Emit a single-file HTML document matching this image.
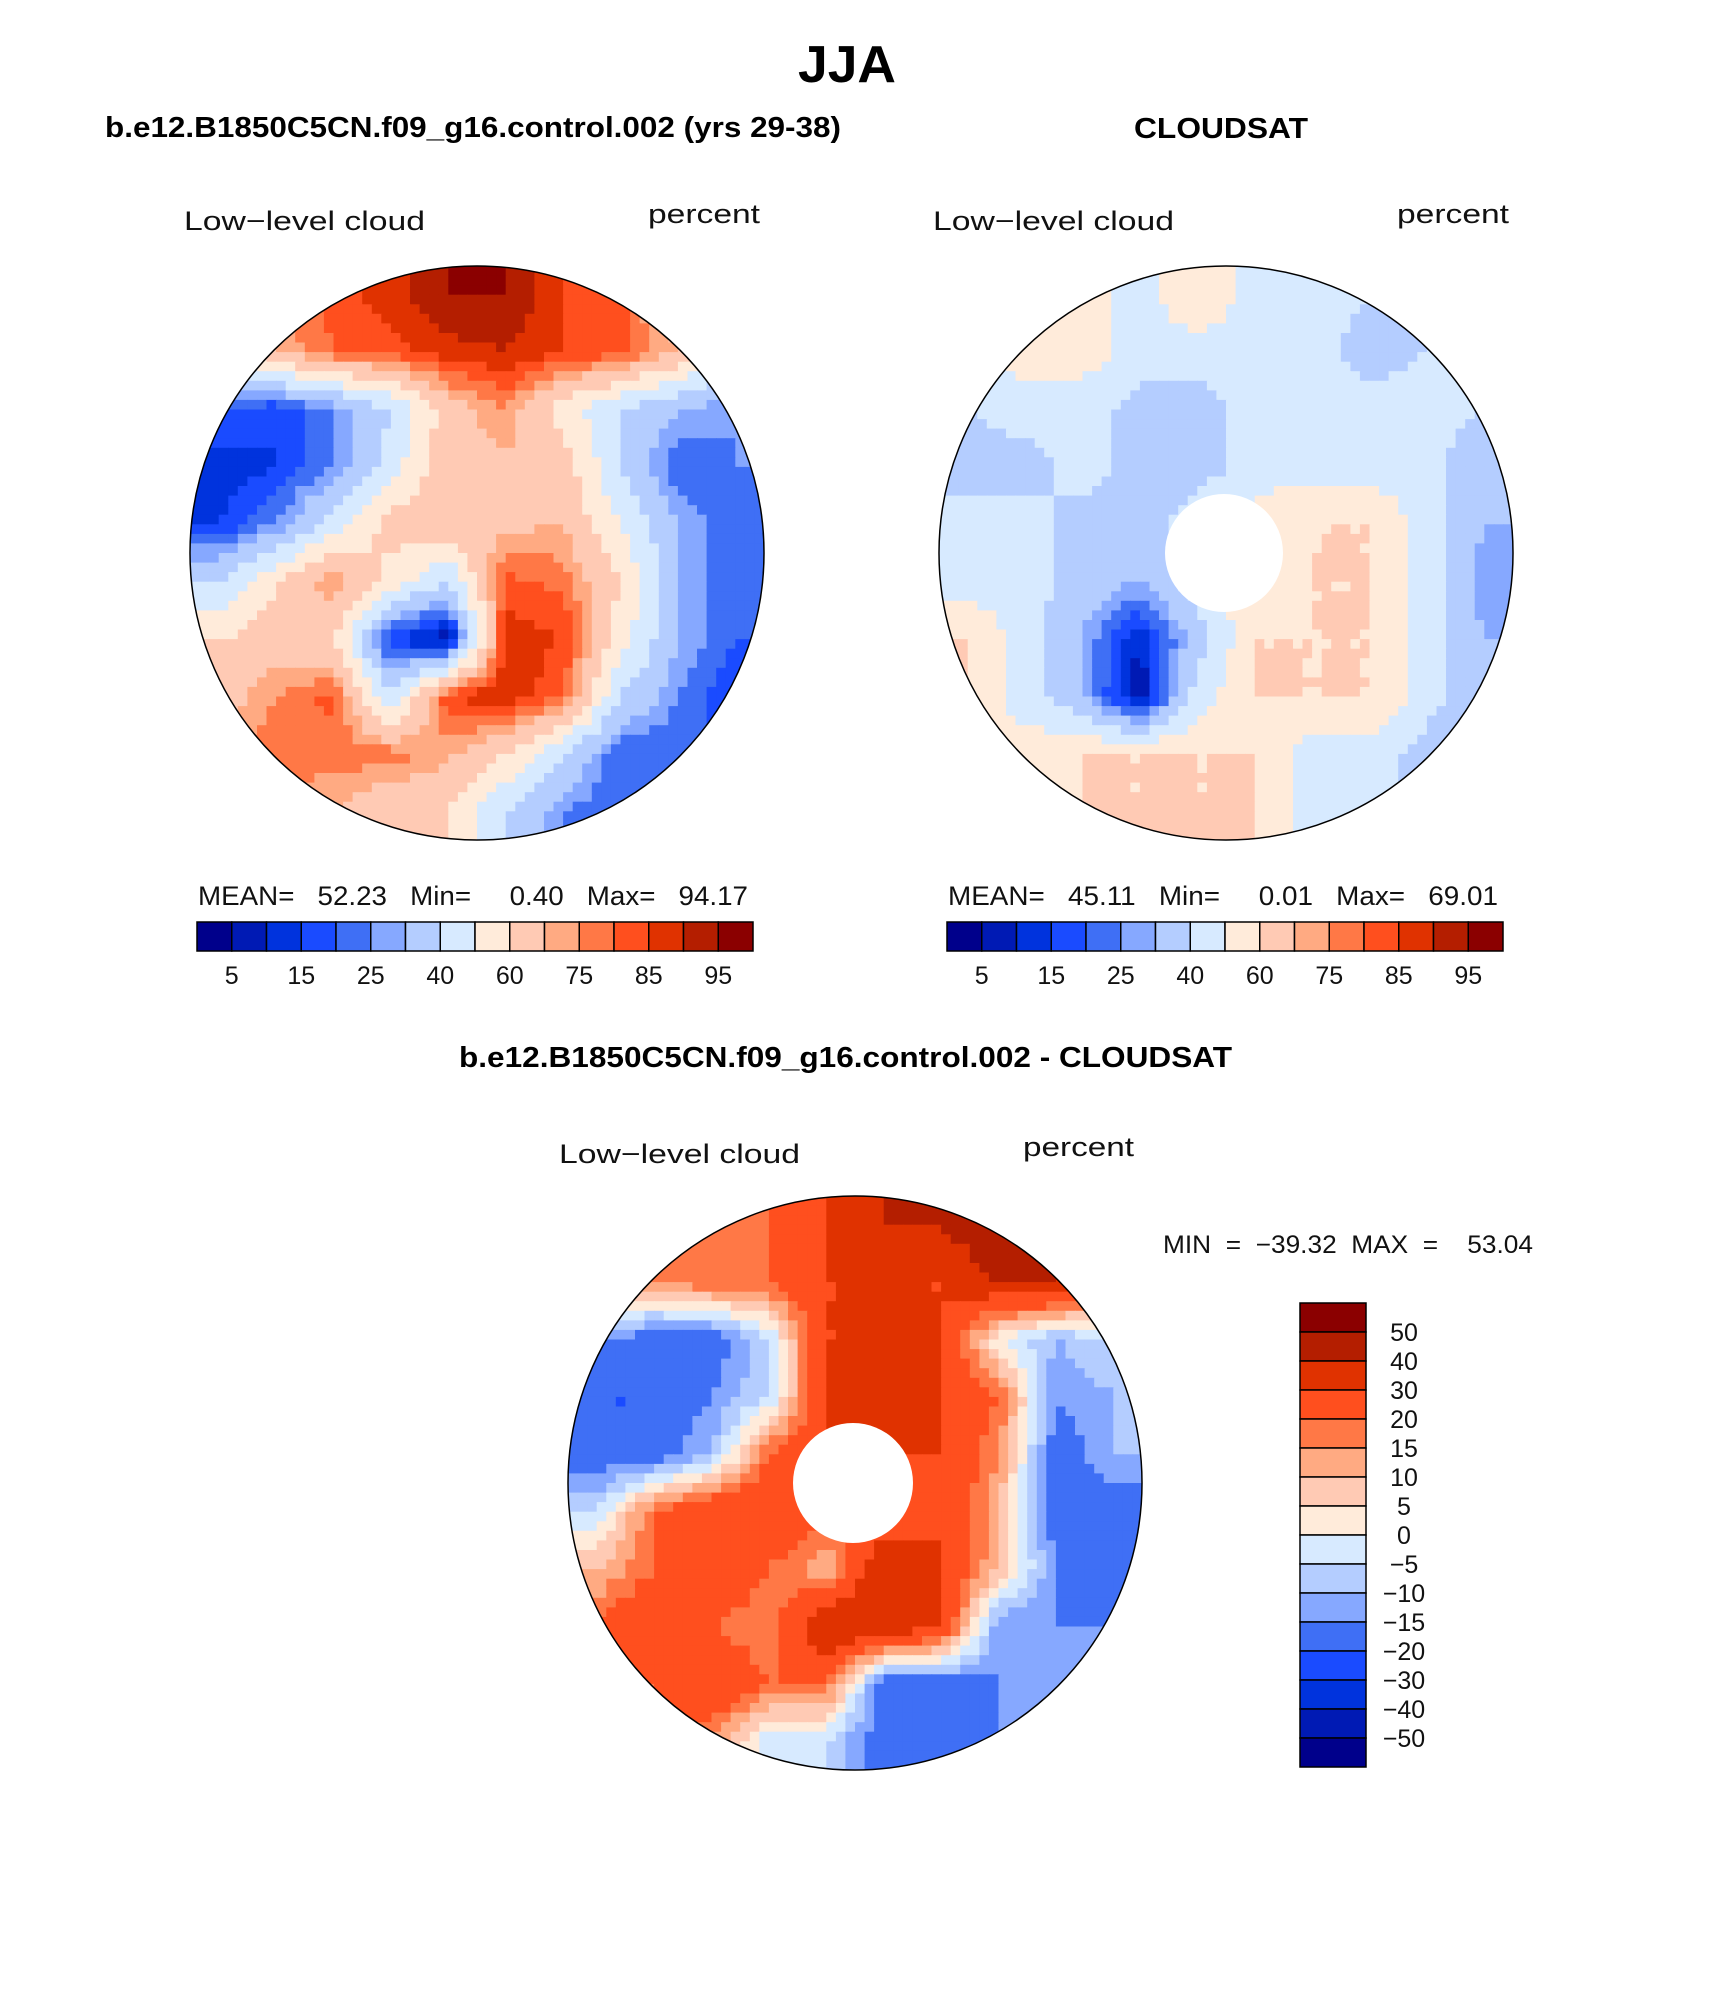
<!DOCTYPE html>
<html><head><meta charset="utf-8"><style>
body{margin:0;background:#fff;width:1710px;height:1994px;overflow:hidden;font-family:"Liberation Sans",sans-serif;}
svg{position:absolute;left:0;top:0}
</style></head><body>
<svg id="fig" width="1710" height="1994" xmlns="http://www.w3.org/2000/svg" font-family="Liberation Sans, sans-serif">
<text x="798" y="82" font-size="52" font-weight="bold" textLength="98" lengthAdjust="spacingAndGlyphs">JJA</text>
<text x="105" y="137" font-size="29" font-weight="bold" textLength="736" lengthAdjust="spacingAndGlyphs">b.e12.B1850C5CN.f09_g16.control.002 (yrs 29-38)</text>
<text x="1134" y="138" font-size="29" font-weight="bold" textLength="174" lengthAdjust="spacingAndGlyphs">CLOUDSAT</text>
<text x="459" y="1067" font-size="29" font-weight="bold" textLength="773" lengthAdjust="spacingAndGlyphs">b.e12.B1850C5CN.f09_g16.control.002 - CLOUDSAT</text>
<g font-size="27" fill="#111">
<text x="184" y="230" textLength="241" lengthAdjust="spacingAndGlyphs">Low−level cloud</text>
<text x="648" y="223" textLength="112" lengthAdjust="spacingAndGlyphs">percent</text>
<text x="933" y="230" textLength="241" lengthAdjust="spacingAndGlyphs">Low−level cloud</text>
<text x="1397" y="223" textLength="112" lengthAdjust="spacingAndGlyphs">percent</text>
<text x="559" y="1163" textLength="241" lengthAdjust="spacingAndGlyphs">Low−level cloud</text>
<text x="1023" y="1156" textLength="111" lengthAdjust="spacingAndGlyphs">percent</text>
<text x="198" y="905" textLength="550" lengthAdjust="spacingAndGlyphs" xml:space="preserve">MEAN=   52.23   Min=     0.40   Max=   94.17</text>
<text x="948" y="905" textLength="550" lengthAdjust="spacingAndGlyphs" xml:space="preserve">MEAN=   45.11   Min=     0.01   Max=   69.01</text>
<text x="1163" y="1253" font-size="25" textLength="370" lengthAdjust="spacingAndGlyphs" xml:space="preserve">MIN  =  −39.32  MAX  =    53.04</text>
</g>
<g id="maps"></g>
</svg>
<script>
const palette=["#00008B","#001AB4","#0033DD","#1A4BFF","#3F6FF5","#86A8FF","#B4CDFF","#D7EAFF","#FFEBDA","#FFCAB4","#FFAA82","#FF7846","#FF4F1E","#E03200","#B41E00","#8B0000"];
const levelsAbs=[5,10,15,20,25,30,40,50,60,70,75,80,85,90,95];
const tickAbs=["5","15","25","40","60","75","85","95"];
const levelsDiff=[-50,-40,-30,-20,-15,-10,-5,0,5,10,15,20,30,40,50];
const tickDiff=["50","40","30","20","15","10","5","0","−5","−10","−15","−20","−30","−40","−50"];
const modelGrid=[
[60,75,82,88,95,95,85,82,60,50],
[45,70,80,82,88,90,85,82,70,45],
[20,15,25,40,65,75,55,40,30,25],
[12,15,25,45,68,68,65,40,20,25],
[15,25,45,65,68,68,70,50,30,20],
[40,60,75,55,40,82,78,60,30,20],
[60,65,60,15,5,88,85,55,30,20],
[65,75,82,40,85,90,80,40,25,15],
[75,78,78,78,72,60,40,20,20,20],
[72,72,70,62,60,40,25,20,20,20]];
const obsGrid=[
[55,60,55,45,60,45,45,40,40,40],
[45,55,55,45,45,45,45,35,40,40],
[40,45,45,35,35,45,45,45,45,40],
[35,35,45,35,35,45,45,45,45,30],
[45,45,35,35,45,55,60,60,45,30],
[45,45,35,30,45,55,60,60,45,25],
[60,45,30,10,35,60,60,60,45,30],
[60,45,30,5,45,60,60,60,45,30],
[45,55,60,60,60,60,45,45,35,30],
[45,55,60,60,60,60,45,45,35,30]];
const diffGrid=[
[20,20,15,20,30,40,40,50,40,20],
[20,15,20,20,30,30,30,40,40,20],
[-15,-20,-20,-5,30,30,30,0,-10,-5],
[-20,-20,-15,-5,30,40,30,20,-15,-10],
[-20,-20,-10,20,30,30,30,15,-20,-10],
[-5,20,30,30,20,20,30,10,-20,-20],
[10,20,30,20,10,40,30,10,-15,-20],
[20,30,20,15,40,40,30,-15,-15,-15],
[20,20,30,20,20,-20,-20,-15,-15,-10],
[20,20,15,-5,-5,-20,-20,-15,-10,-10]];
const NS="http://www.w3.org/2000/svg";
const root=document.getElementById('maps');
function mk(tag,attrs,parent){const e=document.createElementNS(NS,tag);for(const k in attrs)e.setAttribute(k,attrs[k]);(parent||root).appendChild(e);return e;}
function colorFor(v,levels){let i=0;while(i<levels.length&&v>=levels[i])i++;return palette[i];}
function sample(g,fx,fy){const n=g.length;let x=fx*n-0.5,y=fy*n-0.5;x=Math.max(0,Math.min(n-1,x));y=Math.max(0,Math.min(n-1,y));const x0=Math.floor(x),y0=Math.floor(y),x1=Math.min(n-1,x0+1),y1=Math.min(n-1,y0+1),tx=x-x0,ty=y-y0;
return g[y0][x0]*(1-tx)*(1-ty)+g[y0][x1]*tx*(1-ty)+g[y1][x0]*(1-tx)*ty+g[y1][x1]*tx*ty;}
function drawMap(id,grid,levels,cx,cy,r,hole){
 const g=mk('g',{});
 
 
 const cp=mk('clipPath',{id:id+'-clip'},g);mk('circle',{cx:cx,cy:cy,r:r},cp);
 const f=mk('g',{'clip-path':'url(#'+id+'-clip)'},g);
 const N=60,s=2*r/N;
 for(let j=0;j<N;j++)for(let i=0;i<N;i++){
  const v=sample(grid,(i+0.5)/N,(j+0.5)/N);
  const c=mk('rect',{x:(cx-r+i*s).toFixed(1),y:(cy-r+j*s).toFixed(1),width:(s+0.6).toFixed(1),height:(s+0.6).toFixed(1),fill:colorFor(v,levels)},f);
  
  
 }
 if(hole){const h=mk('circle',{cx:cx-2,cy:cy,r:hole,fill:'#fff'},g);
  
  }
 const b=mk('circle',{cx:cx,cy:cy,r:r,fill:'none',stroke:'#000','stroke-width':1.5},g);
 
 
}
function hbar(id,x0,y0,w,h,ticks){
 const g=mk('g',{});
 
 
 const bw=w/palette.length;
 palette.forEach((c,i)=>{const r=mk('rect',{x:x0+i*bw,y:y0,width:bw,height:h,fill:c,stroke:'#000','stroke-width':1.5},g);
  
  });
 ticks.forEach((t,k)=>{const e=mk('text',{x:x0+(2*k+1)*bw,y:y0+h+33,'font-size':25,'text-anchor':'middle',fill:'#111'},g);e.textContent=t;
  
  });
}
function vbar(id,x0,y0,w,h,ticks){
 const g=mk('g',{});
 
 
 const bh=h/palette.length;
 palette.slice().reverse().forEach((c,i)=>{const r=mk('rect',{x:x0,y:y0+i*bh,width:w,height:bh,fill:c,stroke:'#000','stroke-width':1.5},g);
  
  });
 ticks.forEach((t,k)=>{const e=mk('text',{x:x0+w+38,y:y0+(k+1)*bh+9,'font-size':25,'text-anchor':'middle',fill:'#111'},g);e.textContent=t;
  
  });
}
drawMap('model-map',modelGrid,levelsAbs,477,553,287,0);
drawMap('cloudsat-map',obsGrid,levelsAbs,1226,553,287,59);
drawMap('difference-map',diffGrid,levelsDiff,855,1483,287,60);
hbar('left-colorbar',197,922,556,29,tickAbs);
hbar('right-colorbar',947,922,556,29,tickAbs);
vbar('difference-colorbar',1300,1303,66,464,tickDiff);
</script>
</body></html>
